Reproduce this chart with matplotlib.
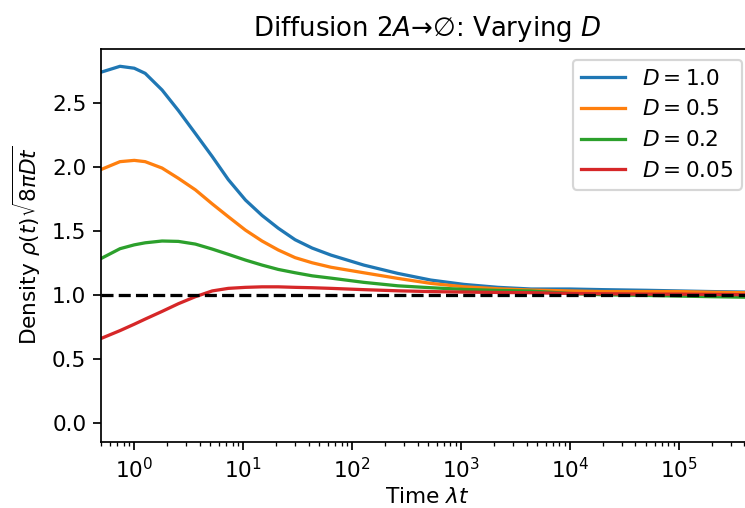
import matplotlib
matplotlib.use("Agg")
import matplotlib.pyplot as plt

# time points (lambda t)
t = [0.5, 0.74, 1.0, 1.26, 1.8, 2.54, 3.64, 5.2, 7.3, 10.5, 14.9, 21, 30, 43, 64,
     128, 263, 528, 1064, 2186, 4400, 1e4, 2e4, 5e4, 1e5, 2e5, 4.8e5]

rho_D10 = [2.74, 2.785, 2.77, 2.73, 2.60, 2.44, 2.26, 2.08, 1.90, 1.74, 1.62, 1.52, 1.43, 1.365, 1.31,
           1.232, 1.167, 1.115, 1.081, 1.058, 1.045, 1.045, 1.04, 1.035, 1.03, 1.025, 1.02]
rho_D05 = [1.98, 2.04, 2.05, 2.04, 1.99, 1.91, 1.82, 1.71, 1.61, 1.505, 1.42, 1.35, 1.29, 1.25, 1.215,
           1.172, 1.128, 1.089, 1.0625, 1.047, 1.037, 1.03, 1.025, 1.025, 1.025, 1.02, 1.015]
rho_D02 = [1.285, 1.36, 1.39, 1.406, 1.42, 1.417, 1.396, 1.357, 1.316, 1.271, 1.232, 1.198, 1.172, 1.148, 1.13,
           1.097, 1.07, 1.055, 1.042, 1.034, 1.029, 1.01, 1.0, 0.995, 0.99, 0.985, 0.98]
rho_D005 = [0.66, 0.72, 0.77, 0.81, 0.87, 0.93, 0.985, 1.03, 1.05, 1.058, 1.062, 1.062, 1.058, 1.055, 1.05,
            1.04, 1.031, 1.025, 1.021, 1.018, 1.016, 1.01, 1.008, 1.005, 1.005, 1.003, 1.0]

series = [rho_D10, rho_D05, rho_D02, rho_D005]
labels = ["$D=1.0$", "$D=0.5$", "$D=0.2$", "$D=0.05$"]

dpi = 156
fig = plt.figure(figsize=(745 / dpi, 508 / dpi), dpi=dpi)
# axes run past the right edge of the figure, as in the cropped original
ax = fig.add_axes([0.1362, 0.1305, 0.8745, 0.773])

for y, lab in zip(series, labels):
    ax.plot(t, y, label=lab)
ax.axhline(1.0, color="black", ls="--")

ax.set_xscale("log")
ax.set_xlim(0.5, 4.8e5)
ax.set_ylim(-0.148, 2.92)
ax.set_xlabel(r"Time $\lambda t$", labelpad=2.5)
ax.set_ylabel(r"Density $\rho(t)\sqrt{8\pi D t}$")
ax.set_title(r"Diffusion 2$A$→∅: Varying $D$")
ax.legend(loc="upper right")

fig.savefig("out.png", dpi=dpi)
